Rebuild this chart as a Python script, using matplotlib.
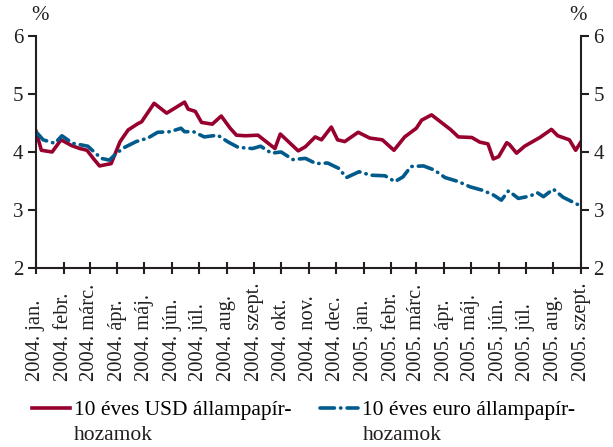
import numpy as np
import pandas as pd
import matplotlib
matplotlib.use("Agg")
import matplotlib.pyplot as plt

plt.rcParams['font.family'] = ['Liberation Serif', 'DejaVu Serif']

# 10 éves USD állampapír-hozamok (%)
usd_dates = [
    "2004-01-01", "2004-01-07", "2004-01-19", "2004-01-29", "2004-02-10", "2004-02-19",
    "2004-02-27", "2004-03-05", "2004-03-12", "2004-03-25", "2004-04-04", "2004-04-13",
    "2004-04-24", "2004-04-28", "2004-05-12", "2004-05-26", "2004-06-15", "2004-06-19",
    "2004-06-27", "2004-07-04", "2004-07-16", "2004-07-26", "2004-08-05", "2004-08-12",
    "2004-08-22", "2004-09-05", "2004-09-24", "2004-09-30", "2004-10-20", "2004-10-28",
    "2004-11-08", "2004-11-15", "2004-11-26", "2004-12-03", "2004-12-11", "2004-12-26",
    "2005-01-08", "2005-01-22", "2005-02-04", "2005-02-16", "2005-03-01", "2005-03-07",
    "2005-03-18", "2005-04-08", "2005-04-17", "2005-05-02", "2005-05-11", "2005-05-20",
    "2005-05-26", "2005-06-01", "2005-06-10", "2005-06-13", "2005-06-21", "2005-06-30",
    "2005-07-17", "2005-07-30", "2005-08-06", "2005-08-19", "2005-08-26", "2005-09-02",
]
usd_values = [
    4.36, 4.03, 4.00, 4.21, 4.11, 4.06,
    4.03, 3.89, 3.76, 3.80, 4.18, 4.38,
    4.49, 4.52, 4.84, 4.67, 4.86, 4.74,
    4.70, 4.51, 4.48, 4.62, 4.41, 4.29,
    4.28, 4.29, 4.06, 4.31, 4.02, 4.09,
    4.26, 4.21, 4.43, 4.21, 4.18, 4.34,
    4.24, 4.21, 4.03, 4.26, 4.41, 4.55,
    4.64, 4.39, 4.26, 4.25, 4.17, 4.14,
    3.88, 3.92, 4.16, 4.13, 3.98, 4.10,
    4.25, 4.39, 4.28, 4.21, 4.03, 4.20,
]

# 10 éves euro állampapír-hozamok (%)
eur_dates = [
    "2004-01-01", "2004-01-09", "2004-01-22", "2004-01-30", "2004-02-11", "2004-02-28",
    "2004-03-06", "2004-03-14", "2004-03-23", "2004-03-31", "2004-04-09", "2004-04-22",
    "2004-05-05", "2004-05-16", "2004-05-30", "2004-06-11", "2004-06-15", "2004-06-25",
    "2004-07-07", "2004-07-22", "2004-08-03", "2004-08-14", "2004-08-30", "2004-09-08",
    "2004-09-20", "2004-10-01", "2004-10-14", "2004-10-28", "2004-11-09", "2004-11-22",
    "2004-12-04", "2004-12-13", "2004-12-27", "2005-01-09", "2005-01-25", "2005-02-05",
    "2005-02-14", "2005-02-23", "2005-03-09", "2005-03-21", "2005-04-02", "2005-04-17",
    "2005-04-30", "2005-05-14", "2005-05-26", "2005-06-04", "2005-06-12", "2005-06-23",
    "2005-07-06", "2005-07-14", "2005-07-21", "2005-08-01", "2005-08-12", "2005-08-25",
    "2005-08-29",
]
eur_values = [
    4.35, 4.21, 4.15, 4.28, 4.15, 4.10,
    4.00, 3.89, 3.86, 3.98, 4.08, 4.18,
    4.24, 4.34, 4.35, 4.41, 4.35, 4.35,
    4.26, 4.29, 4.17, 4.08, 4.06, 4.10,
    3.98, 4.00, 3.87, 3.89, 3.80, 3.81,
    3.72, 3.56, 3.66, 3.60, 3.59, 3.49,
    3.57, 3.75, 3.76, 3.69, 3.56, 3.49,
    3.40, 3.34, 3.26, 3.17, 3.33, 3.20,
    3.24, 3.30, 3.23, 3.36, 3.22, 3.12,
    3.09,
]

month_names = ["jan.", "febr.", "márc.", "ápr.", "máj.", "jún.", "júl.", "aug.",
               "szept.", "okt.", "nov.", "dec."]
tick_months = pd.date_range("2004-01-01", "2005-09-01", freq="MS")
tick_labels = [f"{d.year}. {month_names[d.month - 1]}" for d in tick_months]
y_ticks = [2, 3, 4, 5, 6]

usd_color = "#98002e"
eur_color = "#005b8c"
ink = "#231f20"

fig = plt.figure(figsize=(6.13, 4.47), dpi=100)
ax = fig.add_axes([0.0587, 0.4004, 0.8891, 0.5191])

ax.plot(pd.to_datetime(usd_dates), usd_values, color=usd_color, lw=2.6,
        label="10 éves USD állampapír-")
ax.plot(pd.to_datetime(eur_dates), eur_values, color=eur_color, lw=2.6,
        dashes=(4.0, 1.7, 0.1, 1.7), dash_capstyle="round",
        label="10 éves euro állampapír-")

ax.set_xlim(tick_months[0], tick_months[-1])
ax.set_ylim(2, 6)
ax.set_xticks(tick_months)
# month labels start from a common baseline and read upwards
ax.set_xticklabels(tick_labels, rotation=90, fontsize=14.8, va="bottom", ha="center")
ax.set_yticks(y_ticks)
ax.tick_params(axis="y", which="both", left=True, right=True, labelleft=True,
               labelright=True, direction="out", length=6, width=1.5,
               labelsize=15, colors=ink, pad=3)
ax.tick_params(axis="x", direction="inout", length=9, width=1.5, colors=ink, pad=77)

ax.spines["top"].set_visible(False)
for side in ["left", "right", "bottom"]:
    ax.spines[side].set_linewidth(1.5)
    ax.spines[side].set_color(ink)

fig.text(0.066, 0.965, "%", fontsize=15, color=ink, ha="center", va="center")
fig.text(0.943, 0.965, "%", fontsize=15, color=ink, ha="center", va="center")

leg = fig.legend(loc="lower left", bbox_to_anchor=(0.052, 0.06), ncol=2, frameon=False,
                 fontsize=15.5, handlelength=1.75, handletextpad=0.2, columnspacing=1.35,
                 borderaxespad=0.0, borderpad=0.0)

# second line of each legend label, set under the first
fig.canvas.draw()
inv = fig.transFigure.inverted()
for t in leg.get_texts():
    bb = t.get_window_extent()
    x0, y0 = inv.transform((bb.x0, bb.y0))
    fig.text(x0, y0 - 0.012, "hozamok", fontsize=15.5, color=ink, ha="left", va="top")

fig.savefig("out.png", dpi=100)
